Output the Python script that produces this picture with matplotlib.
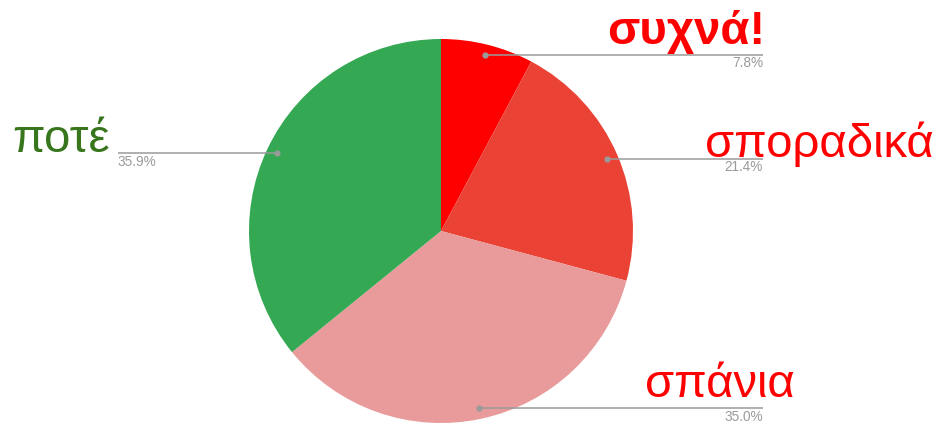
import matplotlib
matplotlib.use("Agg")
import matplotlib.pyplot as plt
import numpy as np

labels = ["συχνά!", "σποραδικά", "σπάνια", "ποτέ"]
values = [7.8, 21.4, 35.0, 35.9]
pct_labels = ["7.8%", "21.4%", "35.0%", "35.9%"]
slice_colors = ["#ff0000", "#ea4335", "#e99a9a", "#34a853"]
text_colors = ["#ff0000", "#ff0000", "#ff0000", "#38761d"]
bold = [True, False, False, False]

W, H = 941, 424
fig = plt.figure(figsize=(W / 100, H / 100), dpi=100)
ax = fig.add_axes([0, 0, 1, 1])
ax.set_xlim(0, W)
ax.set_ylim(0, H)
ax.axis("off")

cx, cy, R = 441, H - 231, 192
wedges, _ = ax.pie(values, colors=slice_colors, startangle=90, counterclock=False,
                   center=(cx, cy), radius=R, normalize=True,
                   wedgeprops=dict(linewidth=0))
ax.set_xlim(0, W)
ax.set_ylim(0, H)
ax.set_aspect("equal")

# layout for each label: line end x, text anchor x, text ha, pct anchor x, pct ha
layout = [
    dict(line_x=763, tx=765, tha="right", px=763, pha="right"),
    dict(line_x=763, tx=934, tha="right", px=763, pha="right"),
    dict(line_x=763, tx=795, tha="right", px=763, pha="right"),
    dict(line_x=118, tx=12, tha="left", px=118, pha="left"),
]
baseline_off = [11, 2, 11, 1]

gray = "#9a9a9a"
for i, w in enumerate(wedges):
    mid = np.deg2rad((w.theta1 + w.theta2) / 2)
    dx = cx + 0.945 * R * np.cos(mid)
    dy = cy + 0.945 * R * np.sin(mid)
    L = layout[i]
    ax.plot([dx, L["line_x"]], [dy, dy], color=gray, lw=1.1, solid_capstyle="butt")
    ax.plot([dx], [dy], "o", color=gray, ms=3.5)
    ax.text(L["tx"], dy + baseline_off[i], labels[i], ha=L["tha"], va="baseline",
            fontsize=34, color=text_colors[i], family="Liberation Sans",
            fontweight="bold" if bold[i] else "normal")
    ax.text(L["px"], dy - 8.5, pct_labels[i], ha=L["pha"], va="center",
            fontsize=9.8, color=gray, family="Liberation Sans")

fig.savefig("out.png", dpi=100)
